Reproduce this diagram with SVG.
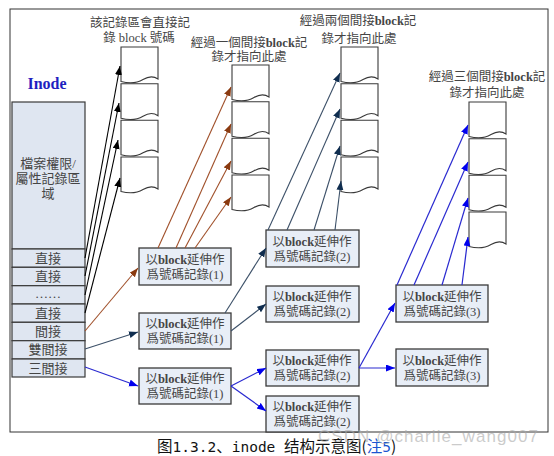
<svg xmlns="http://www.w3.org/2000/svg" xmlns:xlink="http://www.w3.org/1999/xlink" width="554" height="456" viewBox="0 0 554 456">
<style>
.frame{fill:#fff;stroke:#333;stroke-width:1}
.ibox{fill:#dfe6f1;stroke:#3a3a3a;stroke-width:1.2}
.box{fill:#e8eef7;stroke:#3a3a3a;stroke-width:1.3}
.blk{fill:#fff;stroke:#3a3a3a;stroke-width:1.1}
.t{font-family:"Liberation Serif","Noto Sans CJK TC",serif;fill:#454545;text-anchor:middle}
.bt{font-size:12.5px}
.ht{font-size:12.5px}
.rt{font-size:13px}
.b{font-weight:bold}
.c0{stroke:#000;stroke-width:1.1;fill:none}
.c1{stroke:#a0502a;stroke-width:1.1;fill:none}
.c2{stroke:#3c5068;stroke-width:1.1;fill:none}
.c3{stroke:#2a2ad0;stroke-width:1.2;fill:none}
.mono{font-family:"DejaVu Sans Mono",monospace;font-size:14.5px}
</style>
<defs>
<path id="blkp" class="blk" d="M0,0 H37 V32 C32,28.5 27,29.5 22,32.5 C17,35.5 10,37 0,34.5 Z"/>
<marker id="m0" markerUnits="userSpaceOnUse" markerWidth="10" markerHeight="8" refX="9" refY="3.5" orient="auto"><path d="M0,0 L9,3.5 L0,7 Z" fill="#000"/></marker>
<marker id="m1" markerUnits="userSpaceOnUse" markerWidth="10" markerHeight="8" refX="9" refY="3.5" orient="auto"><path d="M0,0 L9,3.5 L0,7 Z" fill="#8a3a10"/></marker>
<marker id="m2" markerUnits="userSpaceOnUse" markerWidth="10" markerHeight="8" refX="9" refY="3.5" orient="auto"><path d="M0,0 L9,3.5 L0,7 Z" fill="#0f2d4f"/></marker>
<marker id="m3" markerUnits="userSpaceOnUse" markerWidth="10" markerHeight="8" refX="9" refY="3.5" orient="auto"><path d="M0,0 L9,3.5 L0,7 Z" fill="#0000ee"/></marker>
</defs>
<rect class="frame" x="10" y="9" width="538" height="423"/>

<text class="t" x="47" y="89" style="font-size:16px;font-weight:bold;fill:#1f1fc0">Inode</text>

<g id="inode">
<rect class="ibox" x="12" y="102" width="73" height="147"/>
<text class="t rt" x="48" y="168">檔案權限/</text>
<text class="t rt" x="48" y="183">屬性記錄區</text>
<text class="t rt" x="48" y="198">域</text>
<rect class="ibox" x="12" y="249" width="73" height="18.3"/>
<rect class="ibox" x="12" y="267.3" width="73" height="18.4"/>
<rect class="ibox" x="12" y="285.7" width="73" height="18.3"/>
<rect class="ibox" x="12" y="304" width="73" height="18.3"/>
<rect class="ibox" x="12" y="322.3" width="73" height="18.4"/>
<rect class="ibox" x="12" y="340.7" width="73" height="18.3"/>
<rect class="ibox" x="12" y="359" width="73" height="18"/>
<text class="t rt" x="48" y="263">直接</text>
<text class="t rt" x="48" y="281">直接</text>
<text class="t rt" x="48" y="298">……</text>
<text class="t rt" x="48" y="318">直接</text>
<text class="t rt" x="48" y="336">間接</text>
<text class="t rt" x="48" y="354">雙間接</text>
<text class="t rt" x="48" y="373">三間接</text>
</g>

<g id="labels">
<text class="t ht" x="140" y="27">該記錄區會直接記</text>
<text class="t ht" x="139" y="42">錄 block 號碼</text>
<text class="t ht" x="249" y="47">經過一個間接<tspan class="b">block</tspan>記</text>
<text class="t ht" x="249" y="61">錄才指向此處</text>
<text class="t ht" x="358" y="25">經過兩個間接<tspan class="b">block</tspan>記</text>
<text class="t ht" x="359" y="43">錄才指向此處</text>
<text class="t ht" x="487" y="81">經過三個間接<tspan class="b">block</tspan>記</text>
<text class="t ht" x="487" y="97">錄才指向此處</text>
</g>

<g id="stack1">
<use xlink:href="#blkp" x="121" y="47"/>
<use xlink:href="#blkp" x="121" y="83.7"/>
<use xlink:href="#blkp" x="121" y="120.3"/>
<use xlink:href="#blkp" x="121" y="157"/>
</g>
<g id="stack2">
<use xlink:href="#blkp" x="232" y="65"/>
<use xlink:href="#blkp" x="232" y="101.7"/>
<use xlink:href="#blkp" x="232" y="138.3"/>
<use xlink:href="#blkp" x="232" y="175"/>
</g>
<g id="stack3">
<use xlink:href="#blkp" x="341" y="47"/>
<use xlink:href="#blkp" x="341" y="83.7"/>
<use xlink:href="#blkp" x="341" y="120.3"/>
<use xlink:href="#blkp" x="341" y="157"/>
</g>
<g id="stack4">
<use xlink:href="#blkp" x="469" y="102"/>
<use xlink:href="#blkp" x="469" y="138.7"/>
<use xlink:href="#blkp" x="469" y="175.3"/>
<use xlink:href="#blkp" x="469" y="212"/>
</g>

<g id="boxA"><rect class="box" x="139" y="248" width="92" height="37"/>
<text class="t bt" x="185" y="264">以<tspan class="b">block</tspan>延伸作</text><text class="t bt" x="185" y="279">爲號碼記錄(1)</text></g>
<g id="boxB"><rect class="box" x="139" y="313" width="92" height="36"/>
<text class="t bt" x="185" y="328">以<tspan class="b">block</tspan>延伸作</text><text class="t bt" x="185" y="343">爲號碼記錄(1)</text></g>
<g id="boxC"><rect class="box" x="139" y="368" width="92" height="36"/>
<text class="t bt" x="185" y="383">以<tspan class="b">block</tspan>延伸作</text><text class="t bt" x="185" y="398">爲號碼記錄(1)</text></g>
<g id="boxD"><rect class="box" x="266" y="230" width="93" height="37"/>
<text class="t bt" x="312" y="246">以<tspan class="b">block</tspan>延伸作</text><text class="t bt" x="312" y="261">爲號碼記錄(2)</text></g>
<g id="boxE"><rect class="box" x="266" y="286" width="93" height="36"/>
<text class="t bt" x="312" y="301">以<tspan class="b">block</tspan>延伸作</text><text class="t bt" x="312" y="316">爲號碼記錄(2)</text></g>
<g id="boxF"><rect class="box" x="266" y="350" width="93" height="36"/>
<text class="t bt" x="312" y="365">以<tspan class="b">block</tspan>延伸作</text><text class="t bt" x="312" y="380">爲號碼記錄(2)</text></g>
<g id="boxG"><rect class="box" x="266" y="396" width="93" height="36"/>
<text class="t bt" x="312" y="411">以<tspan class="b">block</tspan>延伸作</text><text class="t bt" x="312" y="426">爲號碼記錄(2)</text></g>
<g id="boxH"><rect class="box" x="396" y="285" width="92" height="37"/>
<text class="t bt" x="442" y="301">以<tspan class="b">block</tspan>延伸作</text><text class="t bt" x="442" y="316">爲號碼記錄(3)</text></g>
<g id="boxI"><rect class="box" x="396" y="349" width="92" height="37"/>
<text class="t bt" x="442" y="365">以<tspan class="b">block</tspan>延伸作</text><text class="t bt" x="442" y="380">爲號碼記錄(3)</text></g>

<g id="connectors">
<line class="c0" x1="85" y1="258" x2="120" y2="66" marker-end="url(#m0)"/>
<line class="c0" x1="85" y1="276" x2="119" y2="103" marker-end="url(#m0)"/>
<line class="c0" x1="85" y1="295" x2="118" y2="140" marker-end="url(#m0)"/>
<line class="c0" x1="85" y1="313" x2="120" y2="178" marker-end="url(#m0)"/>

<line class="c1" x1="85" y1="331" x2="138" y2="268" marker-end="url(#m1)"/>
<line class="c1" x1="158" y1="248" x2="231" y2="87" marker-end="url(#m1)"/>
<line class="c1" x1="176" y1="248" x2="231" y2="124" marker-end="url(#m1)"/>
<line class="c1" x1="185" y1="248" x2="231" y2="161" marker-end="url(#m1)"/>
<line class="c1" x1="195" y1="248" x2="231" y2="197" marker-end="url(#m1)"/>

<line class="c2" x1="85" y1="349" x2="138" y2="332" marker-end="url(#m2)"/>
<line class="c2" x1="225" y1="313" x2="266" y2="248" marker-end="url(#m2)"/>
<line class="c2" x1="231" y1="331" x2="266" y2="304" marker-end="url(#m2)"/>
<line class="c2" x1="268" y1="230" x2="340" y2="73" marker-end="url(#m2)"/>
<line class="c2" x1="287" y1="230" x2="340" y2="109" marker-end="url(#m2)"/>
<line class="c2" x1="314" y1="230" x2="340" y2="146" marker-end="url(#m2)"/>
<line class="c2" x1="335" y1="230" x2="341" y2="181" marker-end="url(#m2)"/>

<line class="c3" x1="85" y1="367" x2="138" y2="386" marker-end="url(#m3)"/>
<line class="c3" x1="231" y1="386" x2="266" y2="368" marker-end="url(#m3)"/>
<line class="c3" x1="231" y1="386" x2="266" y2="411" marker-end="url(#m3)"/>
<line class="c3" x1="359" y1="368" x2="395" y2="303" marker-end="url(#m3)"/>
<line class="c3" x1="359" y1="368" x2="395" y2="368" marker-end="url(#m3)"/>
<line class="c3" x1="397" y1="285" x2="468" y2="125" marker-end="url(#m3)"/>
<line class="c3" x1="414" y1="285" x2="468" y2="162" marker-end="url(#m3)"/>
<line class="c3" x1="442" y1="285" x2="468" y2="198" marker-end="url(#m3)"/>
<line class="c3" x1="462" y1="285" x2="468" y2="237" marker-end="url(#m3)"/>
</g>

<text x="157" y="452" style="font-family:'Noto Sans CJK SC',sans-serif;font-size:15.5px;fill:#111">图<tspan class="mono">1.3.2</tspan>、<tspan class="mono">inode </tspan>结构示意图(<tspan style="fill:#1a55d0">注<tspan class="mono">5</tspan></tspan>)</text>

<text x="318" y="442" textLength="220" style="font-family:'Liberation Sans',sans-serif;font-size:17px;fill:#a8a8a8;fill-opacity:0.6">CSDN @charlie_wang007</text>
</svg>
